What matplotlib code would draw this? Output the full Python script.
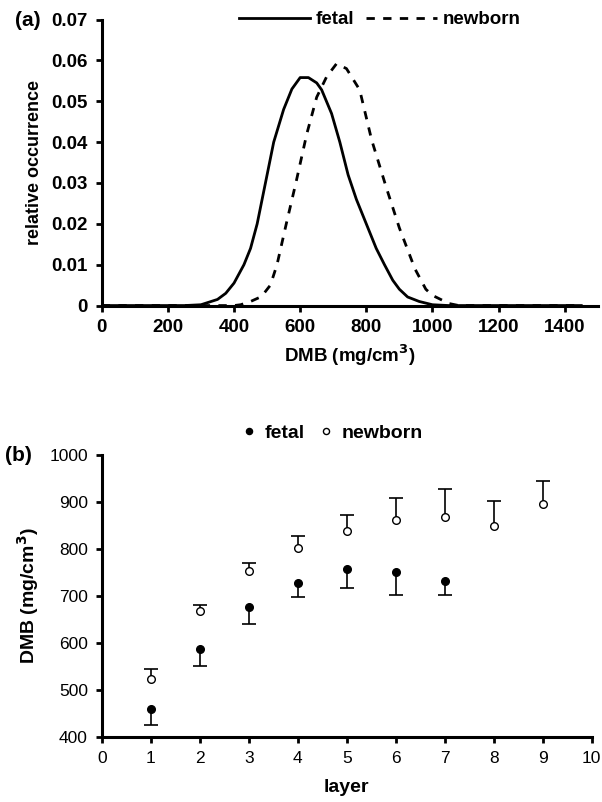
import matplotlib
matplotlib.use("Agg")
import matplotlib.pyplot as plt
from matplotlib.ticker import MultipleLocator, FuncFormatter

plt.rcParams['font.family'] = ['Liberation Sans', 'DejaVu Sans']

# (a) distribution of DMB
dmb_fetal = [0, 250, 300, 350, 375, 400, 430, 450, 470, 495, 520, 550, 575, 600, 625,
             650, 665, 695, 720, 745, 770, 800, 830, 855, 880, 900, 925, 960, 1000, 1050, 1450]
occ_fetal = [0, 0, 0.0002, 0.0015, 0.003, 0.0055, 0.010, 0.014, 0.020, 0.030, 0.040, 0.048,
             0.053, 0.0558, 0.0558, 0.0545, 0.0528, 0.047, 0.040, 0.032, 0.026, 0.020, 0.014,
             0.010, 0.0062, 0.004, 0.0021, 0.001, 0.0002, 0, 0]

dmb_newborn = [0, 400, 420, 450, 483, 510, 530, 558, 587, 620, 650, 680, 710, 740, 780,
               816, 860, 900, 947, 980, 1000, 1050, 1080, 1450]
occ_newborn = [0, 0, 0.0002, 0.001, 0.0022, 0.005, 0.010, 0.020, 0.030, 0.042, 0.051, 0.056,
               0.0592, 0.058, 0.0528, 0.0406, 0.029, 0.019, 0.009, 0.004, 0.0025, 0.0005, 0, 0]

# (b) DMB per layer, mean and one-sided error
layers_fetal = [1, 2, 3, 4, 5, 6, 7]
mean_fetal = [459, 587, 677, 728, 757, 751, 732]
err_fetal = [35, 37, 36, 31, 39, 48, 29]

layers_newborn = [1, 2, 3, 4, 5, 6, 7, 8, 9]
mean_newborn = [523, 668, 753, 803, 838, 862, 869, 850, 896]
err_newborn = [22, 12, 18, 25, 35, 46, 58, 52, 50]

fig = plt.figure(figsize=(6.02, 8.02), dpi=100)

# --- panel (a) ---
ax = fig.add_axes([0.169, 0.619, 0.824, 0.3566])
ax.plot(dmb_fetal, occ_fetal, 'k-', linewidth=2, label='fetal')
ax.plot(dmb_newborn, occ_newborn, 'k--', linewidth=2, dashes=(3, 3), label='newborn')
ax.set_xlim(0, 1500)
ax.set_ylim(0, 0.07)
ax.xaxis.set_major_locator(MultipleLocator(200))
ax.yaxis.set_major_locator(MultipleLocator(0.01))
ax.yaxis.set_major_formatter(FuncFormatter(lambda v, p: '0' if abs(v) < 1e-9 else f'{v:.2f}'))
for s in ['top', 'right']:
    ax.spines[s].set_visible(False)
for s in ['left', 'bottom']:
    ax.spines[s].set_linewidth(2.2)
ax.tick_params(direction='out', length=4, width=2, labelsize=13.5, pad=6)
for lab in ax.get_xticklabels() + ax.get_yticklabels():
    lab.set_fontweight('bold')
ax.set_xlabel('DMB (mg/cm$^\\mathbf{3}$)', fontsize=13.5, fontweight='bold', labelpad=4)
ax.set_ylabel('relative occurrence', fontsize=13, fontweight='bold', labelpad=6)
ax.legend(loc='center', bbox_to_anchor=(0.56, 1.0), ncol=2, frameon=False,
          prop={'weight': 'bold', 'size': 13.5}, handlelength=3.8, handletextpad=0.3,
          columnspacing=0.6)
fig.text(0.025, 0.975, '(a)', fontsize=15, fontweight='bold', va='center')

# --- panel (b) ---
bx = fig.add_axes([0.169, 0.0814, 0.814, 0.351])
eb_f = bx.errorbar(layers_fetal, mean_fetal, yerr=[err_fetal, [0] * len(err_fetal)],
                   fmt='none', ecolor='k', elinewidth=1.2, capsize=5, capthick=1.2)
eb_n = bx.errorbar(layers_newborn, mean_newborn, yerr=[[0] * len(err_newborn), err_newborn],
                   fmt='none', ecolor='k', elinewidth=1.2, capsize=5, capthick=1.2)
# one-sided bars: drop the cap that sits on the marker
eb_f[1][1].set_visible(False)
eb_n[1][0].set_visible(False)
bx.plot(layers_fetal, mean_fetal, 'o', color='k', markersize=5.5, label='fetal', zorder=3)
bx.plot(layers_newborn, mean_newborn, 'o', markerfacecolor='white', markeredgecolor='k',
        markeredgewidth=1, markersize=5.5, label='newborn', zorder=3)
bx.set_xlim(0, 10)
bx.set_ylim(400, 1000)
bx.xaxis.set_major_locator(MultipleLocator(1))
bx.yaxis.set_major_locator(MultipleLocator(100))
for s in ['top', 'right']:
    bx.spines[s].set_visible(False)
for s in ['left', 'bottom']:
    bx.spines[s].set_linewidth(2.2)
bx.tick_params(direction='out', length=4, width=2, labelsize=12.5, pad=6)
bx.set_xlabel('layer', fontsize=14, fontweight='bold', labelpad=10)
bx.set_ylabel('DMB (mg/cm$^\\mathbf{3}$)', fontsize=14, fontweight='bold', labelpad=6)
bx.legend(loc='center', bbox_to_anchor=(0.47, 1.08), ncol=2, frameon=False,
          prop={'weight': 'bold', 'size': 14}, handlelength=0.8, handletextpad=0.4,
          columnspacing=0.7, markerscale=0.8)
fig.text(0.008, 0.432, '(b)', fontsize=15, fontweight='bold', va='center')

fig.savefig('out.png', dpi=100)
